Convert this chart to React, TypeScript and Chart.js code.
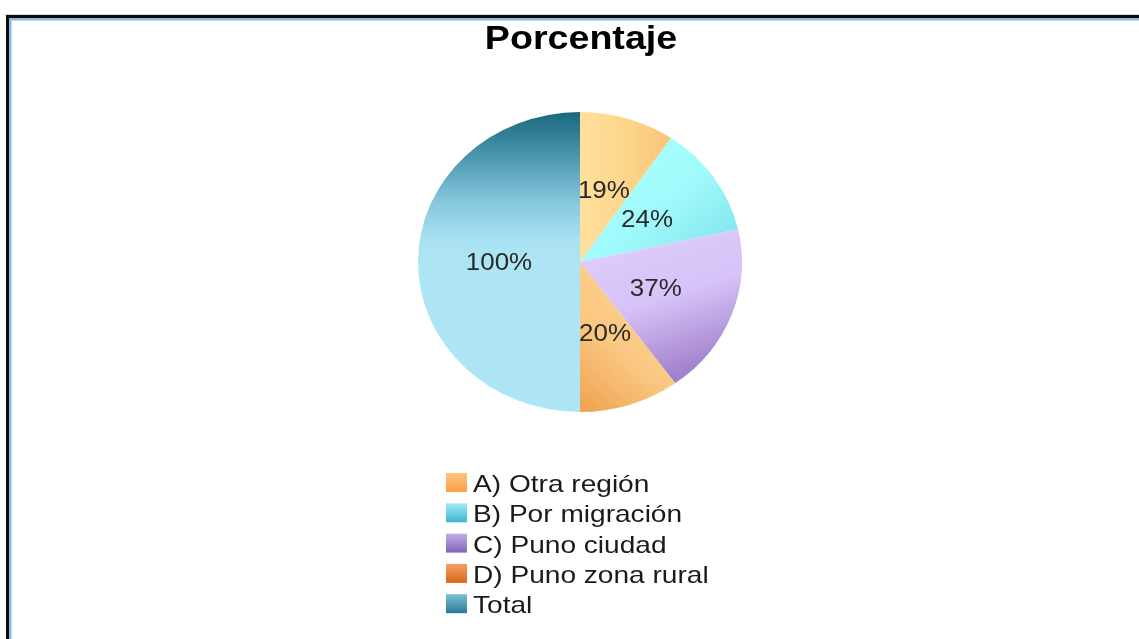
import React, { useEffect, useRef } from 'react';
import { Chart, registerables } from 'chart.js';

Chart.register(...registerables);

const TITLE = 'Porcentaje';
const categories = ['A) Otra región', 'B) Por migración', 'C) Puno ciudad', 'D) Puno zona rural', 'Total'];
const percentages = [19, 24, 37, 20, 100];

// styles
const PIE_SX = 1.08; // horizontal stretch of the pie (ellipse as in the source picture)
const TITLE_SX = 1.14;
const LEGEND_SX = 1.17;
const FONT = '"Liberation Sans", Arial, Helvetica, sans-serif';

type Stop = [number, string];
type GradSpec = { from: [number, number]; to: [number, number]; stops: Stop[] };

// gradient geometry relative to pie centre (in radius units)
const sliceGradients: GradSpec[] = [
  { from: [0, 0], to: [0.6, 0], stops: [[0, '#FFE09C'], [0.5, '#FDD58A'], [1, '#F8C273']] },
  { from: [0.3, -0.9], to: [1, -0.1], stops: [[0, '#A9FFFD'], [0.5, '#A0FAFB'], [1, '#7FE2EA']] },
  { from: [0, 0], to: [0.3, 0.85], stops: [[0, '#DCCBFB'], [0.45, '#D6C2F7'], [1, '#A282CC']] },
  { from: [0.6, 0.3], to: [0, 0.95], stops: [[0, '#FCD190'], [0.5, '#FAC882'], [1, '#EFA554']] },
  { from: [0, -1], to: [0, 0], stops: [[0, '#1A687D'], [0.3, '#4B97AF'], [0.6, '#86C8DD'], [0.85, '#A8E1F2'], [1, '#ADE5F4']] },
];
const sliceFallback = ['#FDD58A', '#A0FAFB', '#D6C2F7', '#F9C57F', '#ADE5F4'];

const legendSwatches: [string, string][] = [
  ['#FFC27E', '#F8A245'],
  ['#9DEBF3', '#3FB5D5'],
  ['#C3AEE9', '#8463BA'],
  ['#F3A064', '#D9671A'],
  ['#7CC0D4', '#2A7896'],
];

function pieGeometry(chart: any) {
  const a = chart.chartArea;
  const cx = (a.left + a.right) / 2;
  const cy = (a.top + a.bottom) / 2;
  const r = Math.min(a.right - a.left, a.bottom - a.top) / 2;
  return { cx, cy, r };
}

const framePlugin = {
  id: 'frame',
  beforeDraw(chart: any) {
    const ctx = chart.ctx;
    const W = chart.width;
    const H = chart.height;
    ctx.save();
    ctx.fillStyle = '#ffffff';
    ctx.fillRect(0, 0, W, H);
    ctx.fillStyle = '#d8d8d8';
    ctx.fillRect(5, 14, W, 1);
    ctx.fillStyle = '#0a0a0a';
    ctx.fillRect(6, 15, W, 3);
    ctx.fillRect(6, 15, 3, H);
    ctx.fillStyle = '#8DB4E2';
    ctx.fillRect(9, 18, W, 2);
    ctx.fillRect(9, 18, 2, H);
    ctx.fillStyle = '#C5D9F1';
    ctx.fillRect(11, 20, W, 1);
    ctx.fillRect(11, 20, 1, H);
    ctx.restore();
  },
};

const ellipsePlugin = {
  id: 'ellipse',
  beforeDatasetsDraw(chart: any) {
    const { cx, cy } = pieGeometry(chart);
    const ctx = chart.ctx;
    ctx.save();
    ctx.translate(cx, cy);
    ctx.scale(PIE_SX, 1);
    ctx.translate(-cx, -cy);
  },
  afterDatasetsDraw(chart: any) {
    const ctx = chart.ctx;
    const meta = chart.getDatasetMeta(0);
    ctx.font = `24px ${FONT}`;
    ctx.fillStyle = '#2a2a2a';
    ctx.textAlign = 'center';
    ctx.textBaseline = 'middle';
    meta.data.forEach((el: any, i: number) => {
      const p = el.tooltipPosition(false);
      ctx.fillText(`${percentages[i]}%`, p.x, p.y + 1);
    });
    ctx.restore();
  },
};

const textPlugin = {
  id: 'texts',
  afterDraw(chart: any) {
    const ctx = chart.ctx;
    // title
    ctx.save();
    ctx.font = `bold 33px ${FONT}`;
    ctx.fillStyle = '#000000';
    ctx.textAlign = 'center';
    ctx.textBaseline = 'alphabetic';
    ctx.translate(581, 49);
    ctx.scale(TITLE_SX, 1);
    ctx.fillText(TITLE, 0, 0);
    ctx.restore();

    // legend
    const x0 = 446;
    const y0 = 473;
    const pitch = 30.3;
    categories.forEach((label, i) => {
      const top = y0 + i * pitch;
      const [c1, c2] = legendSwatches[i];
      const g = ctx.createLinearGradient(0, top, 0, top + 19);
      g.addColorStop(0, c1);
      g.addColorStop(1, c2);
      ctx.save();
      ctx.fillStyle = g;
      ctx.fillRect(x0, top, 21, 19);
      ctx.font = `24px ${FONT}`;
      ctx.fillStyle = '#1a1a1a';
      ctx.textAlign = 'left';
      ctx.textBaseline = 'alphabetic';
      ctx.translate(473, top + 19);
      ctx.scale(LEGEND_SX, 1);
      ctx.fillText(label, 0, 0);
      ctx.restore();
    });
  },
};

export default function App() {
  const canvasRef = useRef<HTMLCanvasElement | null>(null);

  useEffect(() => {
    document.body.style.margin = '0';
    const canvas = canvasRef.current;
    if (!canvas) return;
    const chart = new Chart(canvas, {
      type: 'pie',
      data: {
        labels: categories,
        datasets: [
          {
            data: percentages,
            borderWidth: 0,
            clip: false as any,
            backgroundColor: (c: any) => {
              const chart = c.chart;
              const i = c.dataIndex;
              if (!chart.chartArea || i === undefined) return sliceFallback[i || 0];
              const { cx, cy, r } = pieGeometry(chart);
              const spec = sliceGradients[i];
              const g = chart.ctx.createLinearGradient(
                cx + spec.from[0] * r,
                cy + spec.from[1] * r,
                cx + spec.to[0] * r,
                cy + spec.to[1] * r
              );
              spec.stops.forEach(([o, col]) => g.addColorStop(o, col));
              return g;
            },
          },
        ],
      },
      options: {
        responsive: false,
        animation: false,
        events: [],
        rotation: 0,
        layout: { padding: { left: 430, right: 409, top: 112, bottom: 227 } },
        plugins: {
          legend: { display: false },
          title: { display: false },
          tooltip: { enabled: false },
        },
      },
      plugins: [framePlugin, ellipsePlugin, textPlugin],
    });
    return () => chart.destroy();
  }, []);

  return (
    <div style={{ position: 'fixed', left: 0, top: 0, width: 1139, height: 639 }}>
      <canvas ref={canvasRef} width={1139} height={639} style={{ width: '1139px', height: '639px' }} />
    </div>
  );
}
